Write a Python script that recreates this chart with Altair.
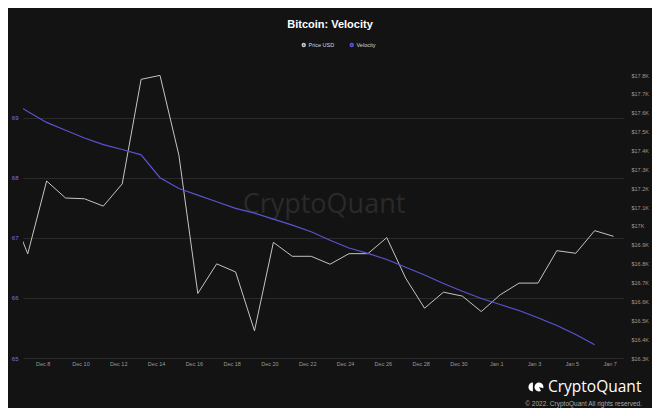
import altair as alt
import pandas as pd

# ---- data (daily, Dec 6 2022 .. Jan 7 2023) ----
price_usd = [17106, 16852, 17238, 17148, 17144, 17105, 17223, 17777, 17798, 17375,
             16642, 16799, 16756, 16444, 16913, 16839, 16839, 16797, 16853, 16853,
             16938, 16723, 16564, 16649, 16628, 16546, 16635, 16697, 16697, 16869,
             16855, 16975, 16945]
velocity = [69.30, 69.10, 68.92, 68.79, 68.66, 68.55, 68.47, 68.38, 68.00, 67.82,
            67.71, 67.60, 67.49, 67.41, 67.31, 67.21, 67.10, 66.96, 66.83, 66.74,
            66.64, 66.51, 66.38, 66.24, 66.11, 65.99, 65.89, 65.79, 65.67, 65.54,
            65.39, 65.22]
series_names = ["Price USD", "Velocity"]
velocity_ticks = [65, 66, 67, 68, 69]
price_ticks = list(range(16300, 17801, 100))
x_tick_days = [(2022, 12, d) for d in range(8, 31, 2)] + [(2023, 1, d) for d in (1, 3, 5, 7)]

start = pd.Timestamp("2022-12-06 05:00")
price_df = pd.DataFrame({
    "date": pd.date_range(start, periods=len(price_usd), freq="D"),
    "value": price_usd,
    "series": series_names[0],
})
vel_df = pd.DataFrame({
    "date": pd.date_range(start, periods=len(velocity), freq="D"),
    "value": velocity,
    "series": series_names[1],
})

BG = "#131313"
FONT = "Liberation Sans"

x_enc = alt.X(
    "date:T",
    title=None,
    scale=alt.Scale(domain=[alt.DateTime(year=2022, month=12, date=6, hours=23),
                            alt.DateTime(year=2023, month=1, date=7, hours=17)]),
    axis=alt.Axis(
        values=[alt.DateTime(year=y, month=m, date=d) for (y, m, d) in x_tick_days],
        format="%b %-d", domain=False, ticks=False, grid=False,
        labelColor="#9a9a9a", labelFontSize=5.5, labelFont=FONT, labelPadding=3,
        labelAngle=0,
    ),
)

color_enc = alt.Color(
    "series:N",
    scale=alt.Scale(domain=series_names, range=["#c4c4c4", "#5a54d2"]),
    legend=alt.Legend(
        title=None, orient="none", legendX=278, legendY=-33, direction="horizontal",
        symbolType="circle", symbolSize=8, symbolStrokeWidth=1.6, padding=0,
        labelFontSize=5.5, labelFont=FONT, labelColor="#d8d8d8", labelOffset=2,
        columnPadding=12,
    ),
)

price_line = alt.Chart(price_df).mark_line(clip=True, strokeWidth=1).encode(
    x=x_enc,
    y=alt.Y(
        "value:Q", title=None,
        scale=alt.Scale(domain=[16300, 17800], nice=False, zero=False),
        axis=alt.Axis(
            orient="right", values=price_ticks,
            labelExpr="'$' + format(datum.value / 1000, '.1~f') + 'K'",
            grid=False, domain=False, ticks=False,
            labelColor="#9a9a9a", labelFontSize=5.5, labelFont=FONT, labelPadding=8,
        ),
    ),
    color=color_enc,
)

vel_line = alt.Chart(vel_df).mark_line(clip=True, strokeWidth=1.2).encode(
    x=x_enc,
    y=alt.Y(
        "value:Q", title=None,
        scale=alt.Scale(domain=[65, 69.709], nice=False, zero=False),
        axis=alt.Axis(
            orient="left", values=velocity_ticks, format="d",
            grid=True, gridColor="#2a2a2a", gridWidth=1,
            domain=False, ticks=False,
            labelColor="#7d72e8", labelFontSize=6, labelFont=FONT, labelPadding=5,
        ),
    ),
    color=color_enc,
)

one = pd.DataFrame({"k": [0]})

title = alt.Chart(one).mark_text(
    text="Bitcoin: Velocity", font=FONT, fontSize=11, fontWeight="bold",
    color="#ffffff", align="center", baseline="middle",
).encode(x=alt.value(307), y=alt.value(-50))

watermark = alt.Chart(one).mark_text(
    text="CryptoQuant", font="Open Sans", fontSize=27, color="#2a2a2a",
    align="center", baseline="middle",
).encode(x=alt.value(301), y=alt.value(130))

logo_text = alt.Chart(one).mark_text(
    text="CryptoQuant", font="Open Sans", fontSize=15.5, color="#ffffff",
    align="left", baseline="middle",
).encode(x=alt.value(525), y=alt.value(311.5))

logo_left = alt.Chart(one).mark_point(
    shape="M 0.2 -1 A 1 1 0 0 0 0.2 1 Z", filled=True, size=80, color="#ffffff", opacity=1,
).encode(x=alt.value(509), y=alt.value(312))

logo_right = alt.Chart(one).mark_point(
    shape="M 0 0 L 0.45 0.9 A 1 1 0 1 1 0.95 0.3 Z", filled=True, size=80,
    color="#ffffff", opacity=1,
).encode(x=alt.value(516), y=alt.value(312))

copyright_text = alt.Chart(one).mark_text(
    text="\u00a9 2022. CryptoQuant All rights reserved.", font=FONT, fontSize=6.5,
    color="#a8a8a8", align="right", baseline="middle",
).encode(x=alt.value(619), y=alt.value(328.5))

chart = alt.layer(
    watermark, price_line, vel_line, title, logo_text, logo_left, logo_right, copyright_text
).resolve_scale(
    y="independent"
).properties(
    width=600, height=283,
    autosize=alt.AutoSizeParams(type="none"),
    padding={"left": 15, "top": 67, "right": 29, "bottom": 50},
    background=BG,
).configure_view(strokeWidth=0)

chart.save("out.html", embed_options={"renderer": "svg", "actions": False})
